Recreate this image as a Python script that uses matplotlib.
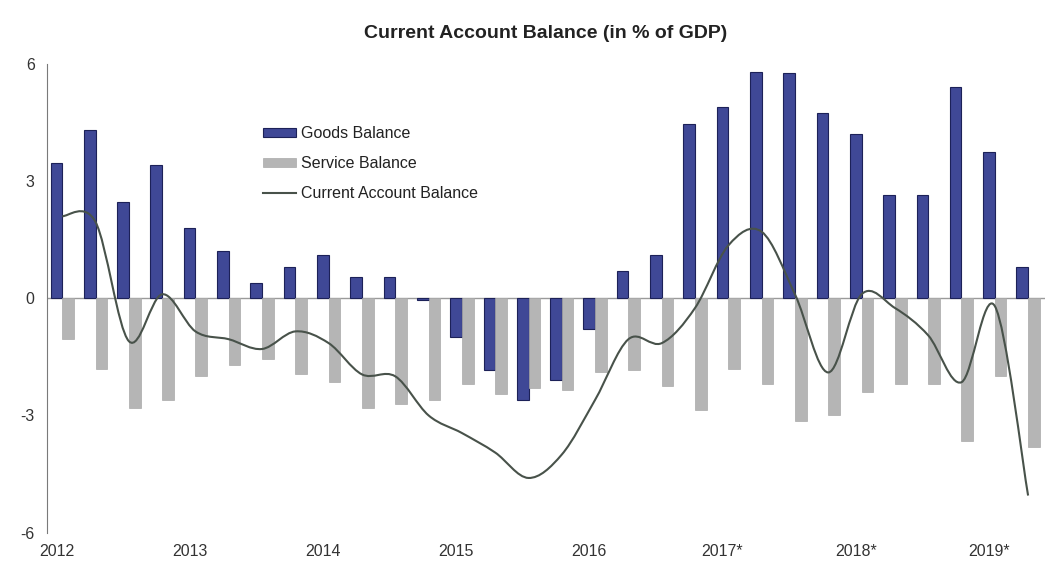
import matplotlib
matplotlib.use("Agg")
import matplotlib.pyplot as plt
import numpy as np
from matplotlib.path import Path
from matplotlib.patches import PathPatch
from matplotlib.lines import Line2D

plt.rcParams['font.family'] = ['Liberation Sans', 'DejaVu Sans']

# quarterly data, 2012Q1 - 2019Q2
years = ['2012', '2013', '2014', '2015', '2016', '2017*', '2018*', '2019*']
goods = [3.45, 4.3, 2.45, 3.4, 1.8, 1.2, 0.4, 0.8,
         1.1, 0.55, 0.55, -0.05, -1.0, -1.85, -2.6, -2.1,
         -0.8, 0.7, 1.1, 4.45, 4.9, 5.8, 5.75, 4.75,
         4.2, 2.65, 2.65, 5.4, 3.75, 0.8]
services = [-1.05, -1.8, -2.8, -2.6, -2.0, -1.7, -1.55, -1.95,
            -2.15, -2.8, -2.7, -2.6, -2.2, -2.45, -2.3, -2.35,
            -1.9, -1.85, -2.25, -2.85, -1.8, -2.2, -3.15, -3.0,
            -2.4, -2.2, -2.2, -3.65, -2.0, -3.8]
current = [2.1, 1.95, -1.1, 0.1, -0.85, -1.05, -1.3, -0.85,
           -1.15, -1.95, -2.0, -3.0, -3.45, -3.95, -4.6, -4.0,
           -2.6, -1.05, -1.15, -0.25, 1.35, 1.7, 0.1, -1.9,
           0.1, -0.25, -0.95, -2.15, -0.2, -5.05]

goods_col = '#3f4896'
goods_edge = '#1c2158'
serv_col = '#b5b5b5'
line_col = '#48524a'


def smooth_path(xs, ys):
    # Catmull-Rom spline through the points, as cubic Bezier segments
    pts = np.column_stack([xs, ys]).astype(float)
    ext = np.vstack([pts[0], pts, pts[-1]])
    verts = [pts[0]]
    codes = [Path.MOVETO]
    for i in range(len(pts) - 1):
        p0, p1, p2, p3 = ext[i], ext[i + 1], ext[i + 2], ext[i + 3]
        c1 = p1 + (p2 - p0) / 6.0
        c2 = p2 - (p3 - p1) / 6.0
        verts += [c1, c2, p2]
        codes += [Path.CURVE4] * 3
    return Path(verts, codes)


fig = plt.figure(figsize=(10.5, 5.79), dpi=100)
ax = fig.add_axes([0.045, 0.08, 0.95, 0.81])

x = np.arange(len(goods))
w = 0.35
ax.axhline(0, color='#9a9a9a', lw=1.0, zorder=1)
ax.bar(x - w / 2, goods, w, color=goods_col, edgecolor=goods_edge,
       linewidth=0.8, zorder=2)
ax.bar(x + w / 2, services, w, color=serv_col, edgecolor='#a9a9a9',
       linewidth=0.5, zorder=2)
ax.add_patch(PathPatch(smooth_path(x, current), facecolor='none',
                       edgecolor=line_col, lw=1.5, zorder=3))

ax.set_xlim(-0.45, 29.5)
ax.set_ylim(-6, 6)
ax.set_yticks([-6, -3, 0, 3, 6])
ax.set_yticklabels(['-6', '-3', '0', '3', '6'])
ax.set_xticks(np.arange(0, len(goods), 4) - w / 2)
ax.set_xticklabels(years)
ax.tick_params(axis='both', length=0, labelsize=11.5, colors='#333333')
ax.tick_params(axis='y', pad=9)
ax.tick_params(axis='x', pad=8)
for s in ['top', 'right', 'bottom']:
    ax.spines[s].set_visible(False)
ax.spines['left'].set_color('#7a7a7a')
ax.spines['left'].set_linewidth(0.8)

fig.text(0.52, 0.942, 'Current Account Balance (in % of GDP)',
         ha='center', va='center', fontsize=14, fontweight='bold',
         color='#222222')

handles = [
    plt.Rectangle((0, 0), 1, 1, facecolor=goods_col, edgecolor=goods_edge, lw=0.8),
    plt.Rectangle((0, 0), 1, 1, facecolor=serv_col, edgecolor='#a9a9a9', lw=0.5),
    Line2D([], [], color=line_col, lw=1.5),
]
ax.legend(handles, ['Goods Balance', 'Service Balance', 'Current Account Balance'],
          loc='upper left', bbox_to_anchor=(263 / 1050, 1 - 126 / 579),
          bbox_transform=fig.transFigure, frameon=False, fontsize=11.5,
          handlelength=2.05, handleheight=0.45, handletextpad=0.3,
          labelspacing=0.95, borderpad=0, borderaxespad=0,
          labelcolor='#222222')

fig.savefig('out.png', dpi=100)
